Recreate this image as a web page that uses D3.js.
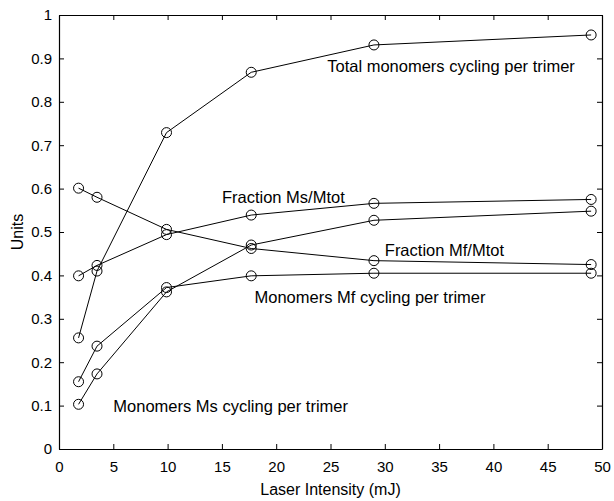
<!DOCTYPE html>
<html>
<head>
<meta charset="utf-8">
<script src="https://d3js.org/d3.v7.min.js"></script>
<style>
  body { margin: 0; background: #fff; }
  text { font-family: "Liberation Sans", Arial, sans-serif; fill: #000; }
</style>
</head>
<body>
<script>
// laser intensity (mJ)
var intensity = [1.8, 3.5, 9.9, 17.7, 29, 49];

var totalMono = [0.256, 0.41, 0.729, 0.868, 0.931, 0.954];
var fracMs    = [0.399, 0.423, 0.494, 0.539, 0.566, 0.575];
var fracMf    = [0.601, 0.58, 0.506, 0.462, 0.434, 0.425];
var mfCycling = [0.155, 0.237, 0.372, 0.399, 0.405, 0.405];
var msCycling = [0.103, 0.173, 0.362, 0.47, 0.527, 0.548];

var seriesNames = ["Total monomers cycling per trimer", "Fraction Ms/Mtot",
  "Fraction Mf/Mtot", "Monomers Mf cycling per trimer", "Monomers Ms cycling per trimer"];

var xTicks = [0, 5, 10, 15, 20, 25, 30, 35, 40, 45, 50];
var yTicks = [0, 0.1, 0.2, 0.3, 0.4, 0.5, 0.6, 0.7, 0.8, 0.9, 1];

var width = 614, height = 501;
var margin = {left: 59, right: 12, top: 15, bottom: 52};

var svg = d3.select("body").append("svg")
  .attr("width", width)
  .attr("height", height);

var x = d3.scaleLinear().domain([0, 50]).range([margin.left, width - margin.right]);
var y = d3.scaleLinear().domain([0, 1]).range([height - margin.bottom, margin.top]);

var fmt = function(d) { return String(d); };

// axes, ticks pointing inward like matlab
svg.append("g")
  .attr("transform", "translate(0," + y(0) + ")")
  .call(d3.axisBottom(x).tickValues(xTicks).tickSizeInner(-5).tickSizeOuter(0).tickPadding(12).tickFormat(fmt));
svg.append("g")
  .attr("transform", "translate(0," + y(1) + ")")
  .call(d3.axisTop(x).tickValues(xTicks).tickSizeInner(-5).tickSizeOuter(0).tickFormat(""));
svg.append("g")
  .attr("transform", "translate(" + x(0) + ",0)")
  .call(d3.axisLeft(y).tickValues(yTicks).tickSizeInner(-5).tickSizeOuter(0).tickPadding(7).tickFormat(fmt));
svg.append("g")
  .attr("transform", "translate(" + x(50) + ",0)")
  .call(d3.axisRight(y).tickValues(yTicks).tickSizeInner(-5).tickSizeOuter(0).tickFormat(""));

svg.selectAll(".domain").attr("stroke", "#000").attr("stroke-width", 1.2);
svg.selectAll(".tick line").attr("stroke", "#000");
svg.selectAll(".tick text").style("font-size", "15px").attr("fill", "#000");

var series = [totalMono, fracMs, fracMf, mfCycling, msCycling];

var line = d3.line()
  .x(function(d, i) { return x(intensity[i]); })
  .y(function(d) { return y(d); });

series.forEach(function(s) {
  var g = svg.append("g");
  g.append("path")
    .datum(s)
    .attr("d", line)
    .attr("fill", "none")
    .attr("stroke", "#000")
    .attr("stroke-width", 1);
  g.selectAll("circle")
    .data(s)
    .enter()
    .append("circle")
    .attr("cx", function(d, i) { return x(intensity[i]); })
    .attr("cy", function(d) { return y(d); })
    .attr("r", 5)
    .attr("fill", "none")
    .attr("stroke", "#000")
    .attr("stroke-width", 1);
});

// curve labels (placed in data units)
var labelPos = [[24.7, 0.869], [15, 0.567], [30, 0.445], [18, 0.336], [5, 0.085]];
svg.selectAll(".lbl")
  .data(seriesNames)
  .enter()
  .append("text")
  .attr("class", "lbl")
  .attr("x", function(d, i) { return x(labelPos[i][0]); })
  .attr("y", function(d, i) { return y(labelPos[i][1]); })
  .style("font-size", "16.5px")
  .text(function(d) { return d; });

svg.append("text")
  .attr("x", (x(0) + x(50)) / 2)
  .attr("y", 495)
  .attr("text-anchor", "middle")
  .style("font-size", "16px")
  .text("Laser Intensity (mJ)");

svg.append("text")
  .attr("transform", "translate(23," + ((y(0) + y(1)) / 2) + ") rotate(-90)")
  .attr("text-anchor", "middle")
  .style("font-size", "16px")
  .text("Units");
</script>
</body>
</html>
